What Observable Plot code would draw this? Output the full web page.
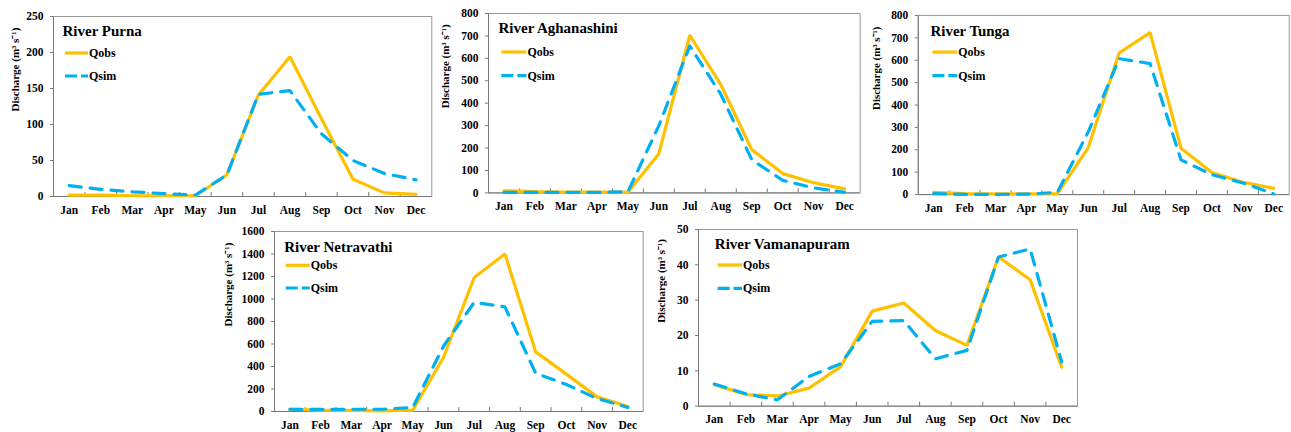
<!DOCTYPE html>
<html><head><meta charset="utf-8">
<script src="https://cdn.jsdelivr.net/npm/d3@7"></script>
<script src="https://cdn.jsdelivr.net/npm/@observablehq/plot@0.6"></script>
<style>
body{margin:0;background:#fff;}
#chart{position:relative;width:1291px;height:432px;overflow:hidden;background:#fff;}
.panel{position:absolute;}
.panel svg{overflow:visible;}
</style></head><body><div id="chart"></div>
<script>
const months = ["Jan","Feb","Mar","Apr","May","Jun","Jul","Aug","Sep","Oct","Nov","Dec"];
const seriesNames = ["Qobs","Qsim"];
const yLabel = "Discharge (m\u00B3 s\u207B\u00B9)";

const purnaObs = [2, 2, 1, 1, 1, 30, 141, 194, 108, 24, 5, 3];
const purnaSim = [15, 10, 6.5, 4, 2, 30, 142, 147, 87, 50, 32, 23];

const aghanashiniObs = [9, 6, 4, 3, 3, 175, 703, 483, 193, 86, 45, 18];
const aghanashiniSim = [2, 2, 2, 2, 5, 300, 655, 440, 148, 56, 22, 3];

const tungaObs = [10, 4, 3, 3, 4, 210, 633, 723, 207, 99, 55, 28];
const tungaSim = [4, 1, 1, 2, 10, 280, 607, 585, 155, 89, 52, 3];

const netravathiObs = [20, 12, 9, 6, 12, 480, 1191, 1400, 530, 332, 130, 44];
const netravathiSim = [20, 18, 20, 20, 36, 580, 970, 930, 340, 240, 115, 36];

const vamanapuramObs = [6.1, 3.3, 2.9, 5.1, 11.2, 26.9, 29.2, 21.4, 17.2, 42.2, 35.8, 11];
const vamanapuramSim = [6.3, 3.5, 1.8, 8.4, 12, 24, 24.2, 13.4, 15.8, 42.2, 44.5, 12.5];

const yMaxes = {purna: 250, aghanashini: 800, tunga: 800, netravathi: 1600, vamanapuram: 50};
const ySteps = {purna: 50, aghanashini: 100, tunga: 100, netravathi: 200, vamanapuram: 10};

// layout (frame edges in page pixels, and offsets of title / legend inside frame)
const layout = [
  {key:"purna", name:"River Purna", obs:purnaObs, sim:purnaSim, fl:52.7, fr:431, ft:15.7, fb:195.7, lab:37.7, title:[9,15], leg:[12,35,37,60]},
  {key:"aghanashini", name:"River Aghanashini", obs:aghanashiniObs, sim:aghanashiniSim, fl:488.3, fr:860, ft:13.3, fb:192.7, lab:43.3, title:[10,15], leg:[13.4,38.4,39,62.7]},
  {key:"tunga", name:"River Tunga", obs:tungaObs, sim:tungaSim, fl:918.3, fr:1291, ft:15, fb:195, lab:41.6, title:[12.4,15.7], leg:[14.7,39.7,37.3,61]},
  {key:"netravathi", name:"River Netravathi", obs:netravathiObs, sim:netravathiSim, fl:274.3, fr:643, ft:230.7, fb:410.7, lab:46.3, title:[9.7,16], leg:[11.7,35.7,34.3,57]},
  {key:"vamanapuram", name:"River Vamanapuram", obs:vamanapuramObs, sim:vamanapuramSim, fl:697.7, fr:1076.7, ft:229, fb:405.7, lab:37, title:[16.3,15], leg:[19.6,44,36,59.3]}
];

const OBS = "#FFC000", SIM = "#00B0F0";
const FONT = "'Liberation Serif','Times New Roman',serif";
const mL = 52, mR = 2, mT = 12, mB = 24;
const chart = document.getElementById("chart");

for (const p of layout) {
  const obsRows = p.obs.map((v, i) => ({m: i + 1, v}));
  const simRows = p.sim.map((v, i) => ({m: i + 1, v}));
  const innerW = p.fr - p.fl, innerH = p.fb - p.ft;
  const yMax = yMaxes[p.key], yStep = ySteps[p.key];

  const legendMark = (index, scales, values, dim) => {
    const g = d3.create("svg:g");
    const x0 = dim.marginLeft + p.leg[0], x1 = dim.marginLeft + p.leg[1];
    const items = [
      {y: dim.marginTop + p.leg[2], color: OBS, dash: null, label: seriesNames[0]},
      {y: dim.marginTop + p.leg[3], color: SIM, dash: "12,4", label: seriesNames[1]}
    ];
    for (const it of items) {
      const l = g.append("line").attr("x1", x0).attr("x2", x1).attr("y1", it.y).attr("y2", it.y)
        .attr("stroke", it.color).attr("stroke-width", 3.2);
      if (it.dash) l.attr("stroke-dasharray", it.dash);
      g.append("text").attr("x", x1 + 1).attr("y", it.y).attr("dy", "0.35em")
        .attr("text-anchor", "start")
        .attr("font-size", 12).attr("font-weight", "bold").attr("fill", "#000").text(it.label);
    }
    return g.node();
  };

  const plot = Plot.plot({
    width: mL + innerW + mR,
    height: mT + innerH + mB,
    marginLeft: mL, marginRight: mR, marginTop: mT, marginBottom: mB,
    style: {fontFamily: FONT, fontWeight: "bold", fontSize: "11px", color: "#000", background: "transparent", overflow: "visible"},
    x: {type: "linear", domain: [0.5, 12.5], axis: null},
    y: {domain: [0, yMax], axis: null},
    marks: [
      Plot.frame({stroke: "#999"}),
      Plot.tickX(d3.range(1.5, 12, 1), {x: d => d, stroke: "#777", insetTop: innerH - 4}),
      Plot.ruleX([0.5], {stroke: "#777"}),
      Plot.ruleY([0], {stroke: "#777"}),
      Plot.axisX({ticks: d3.range(1, 13), tickFormat: i => months[i - 1], tickSize: 0, tickPadding: 9, label: null, fontSize: 11.5}),
      Plot.axisY({ticks: d3.range(0, yMax + 1, yStep), tickFormat: d => String(d), tickSize: 3, tickPadding: 7, label: null, stroke: "#777", fontSize: 11.5}),
      Plot.line(obsRows, {x: "m", y: "v", stroke: OBS, strokeWidth: 3.2, strokeLinejoin: "miter"}),
      Plot.line(simRows, {x: "m", y: "v", stroke: SIM, strokeWidth: 3.2, strokeDasharray: "12,9"}),
      Plot.text([p.name], {text: d => d, frameAnchor: "top-left", dx: p.title[0], dy: p.title[1], textAnchor: "start", lineAnchor: "middle", fontSize: 15, fontWeight: "bold", fill: "#000"}),
      Plot.text([yLabel], {text: d => d, frameAnchor: "left", rotate: -90, dx: -p.lab, dy: 5, fontSize: 11, fontWeight: "bold", fill: "#000"}),
      legendMark
    ]
  });
  const div = document.createElement("div");
  div.className = "panel";
  div.style.left = (p.fl - mL) + "px";
  div.style.top = (p.ft - mT) + "px";
  div.appendChild(plot);
  chart.appendChild(div);
}
</script>
</body></html>
